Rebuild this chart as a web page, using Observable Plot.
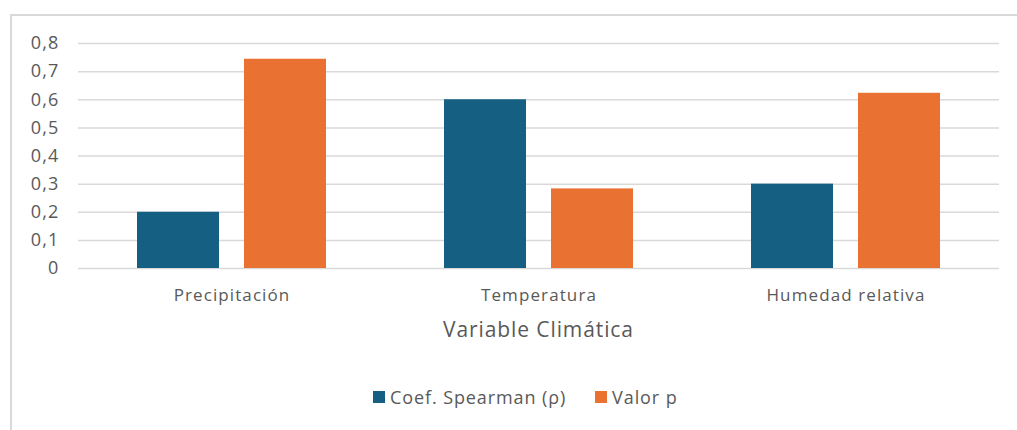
<!DOCTYPE html>
<html><head><meta charset="utf-8">
<script src="https://cdn.jsdelivr.net/npm/d3@7"></script>
<script src="https://cdn.jsdelivr.net/npm/@observablehq/plot@0.6"></script>
<style>
body{margin:0;background:#fff;font-family:"Open Sans",sans-serif;}
#wrap{position:relative;width:1017px;height:430px;overflow:hidden;}
#frame{position:absolute;left:10px;top:14px;width:1100px;height:500px;border-left:2px solid #d9d9d9;border-top:2px solid #d9d9d9;box-sizing:border-box;}
#xtitle{position:absolute;left:0;width:1077px;top:315px;text-align:center;font-size:21px;letter-spacing:0.9px;color:#595959;}
#legend{position:absolute;top:385px;left:373px;display:flex;align-items:center;font-size:18px;letter-spacing:0.9px;color:#595959;}
.sw{display:inline-block;width:12px;height:12px;margin-right:5px;}
.item{display:flex;align-items:center;margin-right:29px;}
g[aria-label="y-axis tick label"] text{font-size:18px;letter-spacing:1.2px;}
g[aria-label="fx-axis tick label"] text{font-size:17px;letter-spacing:1.1px;}
</style>
</head><body>
<div id="wrap"><div id="frame"></div><div id="chart"></div><div id="xtitle"></div><div id="legend"></div></div>
<script>
const categories = ["Precipitación", "Temperatura", "Humedad relativa"];
const series = ["Coef. Spearman (ρ)", "Valor p"];
const spearman = [0.2, 0.6, 0.3];
const pValues = [0.744, 0.283, 0.623];
const yTicks = [0, 0.1, 0.2, 0.3, 0.4, 0.5, 0.6, 0.7, 0.8];
const colors = ["#156082", "#E97132"];
const xTitle = "Variable Climática";

const data = [];
categories.forEach((c, i) => {
  data.push({cat: c, series: series[0], value: spearman[i]});
  data.push({cat: c, series: series[1], value: pValues[i]});
});
const fmt = d => d === 0 ? "0" : d.toFixed(1).replace(".", ",");

const chart = Plot.plot({
  width: 1017,
  height: 430,
  marginLeft: 77,
  marginRight: 17,
  marginTop: 43,
  marginBottom: 162,
  style: {fontFamily: "Open Sans, sans-serif", color: "#595959", background: "transparent"},
  fx: {domain: categories, padding: 0, label: null},
  x: {domain: series, paddingInner: 0.23, paddingOuter: 0.54, axis: null},
  y: {domain: [0, 0.8], label: null},
  color: {domain: series, range: colors},
  marks: [
    Plot.gridY(yTicks, {stroke: "#d9d9d9", strokeOpacity: 1, strokeWidth: 1.5}),
    Plot.axisY(yTicks, {tickSize: 0, tickPadding: 19, tickFormat: fmt, fontSize: 18, fill: "#595959", label: null}),
    Plot.axisFx({anchor: "bottom", tickSize: 0, tickPadding: 20, fontSize: 17, fill: "#595959", label: null}),
    Plot.barY(data, {fx: "cat", x: "series", y: "value", fill: "series"})
  ]
});
document.getElementById("chart").appendChild(chart);
document.getElementById("xtitle").textContent = xTitle;
const leg = document.getElementById("legend");
series.forEach((s, i) => {
  const it = document.createElement("span");
  it.className = "item";
  it.innerHTML = `<span class="sw" style="background:${colors[i]}"></span>`;
  it.appendChild(document.createTextNode(s));
  leg.appendChild(it);
});
</script>
</body></html>
